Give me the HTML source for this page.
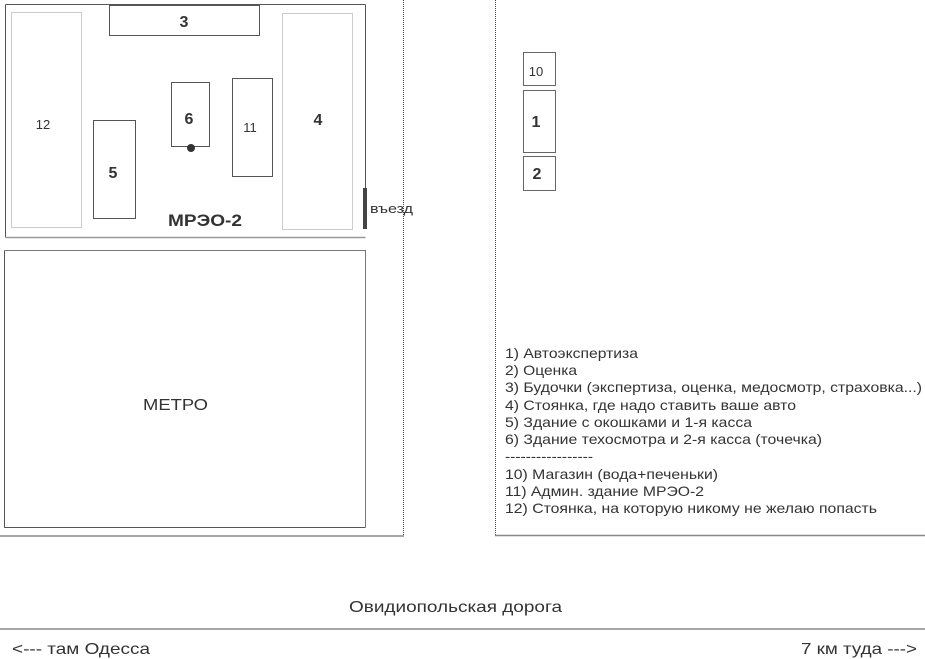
<!DOCTYPE html>
<html><head><meta charset="utf-8"><style>
html,body{margin:0;padding:0;background:#fff;}
svg{display:block;}
text{font-family:"Liberation Sans",sans-serif;fill:#333;}
</style></head><body>
<svg width="925" height="659" viewBox="0 0 925 659" xmlns="http://www.w3.org/2000/svg">
<g fill="none" stroke-width="1">
<path d="M5.5 4.5H365.5" stroke="#555"/>
<path d="M5.5 4.5V237.5" stroke="#555"/>
<path d="M5.5 237.5H365.5" stroke="#999" stroke-width="1.5"/>
<path d="M365.5 4.5V188" stroke="#555"/>
<rect x="109.5" y="5.5" width="150" height="30" stroke="#555"/>
<rect x="11.5" y="12.5" width="70" height="215" stroke="#999" stroke-dasharray="1,1"/>
<rect x="282.5" y="13.5" width="70" height="216" stroke="#999" stroke-dasharray="1,1"/>
<rect x="93.5" y="120.5" width="42" height="98" stroke="#555"/>
<rect x="171.5" y="82.5" width="38" height="64" stroke="#555"/>
<rect x="232.5" y="78.5" width="40" height="98" stroke="#555"/>
<path d="M4.5 250.5H365.5V527.5" stroke="#777"/>
<path d="M4.5 250.5V527.5H365.5" stroke="#555"/>
<path d="M403.5 0V535.5" stroke="#444" stroke-dasharray="1,1"/>
<path d="M0 536H404" stroke="#888" stroke-width="1.5"/>
<path d="M495.5 0V535.5" stroke="#444" stroke-dasharray="1,1"/>
<path d="M495 535.5H925" stroke="#888" stroke-width="1.5"/>
<rect x="523.5" y="52.5" width="32" height="33" stroke="#666"/>
<rect x="523.5" y="90.5" width="32" height="62" stroke="#666"/>
<rect x="523.5" y="156.5" width="32" height="34" stroke="#666"/>
<path d="M0 629H925" stroke="#888" stroke-width="1.5"/>
</g>
<rect x="363" y="188" width="4" height="41" fill="#444"/>
<circle cx="191" cy="148" r="4" fill="#333"/>

<g font-weight="bold" font-size="16" text-anchor="middle">
<text x="184" y="27">3</text>
<text x="189" y="124">6</text>
<text x="113" y="178">5</text>
<text x="318" y="125">4</text>
<text x="536" y="127">1</text>
<text x="537" y="179">2</text>
</g>
<text x="168" y="226" font-weight="bold" font-size="17" textLength="74" lengthAdjust="spacingAndGlyphs">МРЭО-2</text>
<g font-size="13" text-anchor="middle">
<text x="43" y="129">12</text>
<text x="250" y="132">11</text>
<text x="536" y="76">10</text>
</g>
<text x="370" y="213" font-size="13" textLength="43" lengthAdjust="spacingAndGlyphs">въезд</text>
<text x="143" y="410" font-size="16" textLength="65" lengthAdjust="spacingAndGlyphs">МЕТРО</text>

<g font-size="14" lengthAdjust="spacingAndGlyphs">
<text x="505" y="358" textLength="133" lengthAdjust="spacingAndGlyphs">1) Автоэкспертиза</text>
<text x="505" y="375" textLength="72" lengthAdjust="spacingAndGlyphs">2) Оценка</text>
<text x="505" y="392" textLength="417" lengthAdjust="spacingAndGlyphs">3) Будочки (экспертиза, оценка, медосмотр, страховка...)</text>
<text x="505" y="410" textLength="291" lengthAdjust="spacingAndGlyphs">4) Стоянка, где надо ставить ваше авто</text>
<text x="505" y="427" textLength="247" lengthAdjust="spacingAndGlyphs">5) Здание с окошками и 1-я касса</text>
<text x="505" y="444" textLength="317" lengthAdjust="spacingAndGlyphs">6) Здание техосмотра и 2-я касса (точечка)</text>
<text x="505" y="461" textLength="88" lengthAdjust="spacingAndGlyphs">-----------------</text>
<text x="505" y="479" textLength="213" lengthAdjust="spacingAndGlyphs">10) Магазин (вода+печеньки)</text>
<text x="505" y="496" textLength="199" lengthAdjust="spacingAndGlyphs">11) Админ. здание МРЭО-2</text>
<text x="505" y="513" textLength="372" lengthAdjust="spacingAndGlyphs">12) Стоянка, на которую никому не желаю попасть</text>
</g>
<text x="349" y="612" font-size="16" textLength="213" lengthAdjust="spacingAndGlyphs">Овидиопольская дорога</text>
<text x="12" y="654" font-size="16" textLength="138" lengthAdjust="spacingAndGlyphs">&lt;--- там Одесса</text>
<text x="801" y="654" font-size="16" textLength="116" lengthAdjust="spacingAndGlyphs">7 км туда ---&gt;</text>
</svg>
</body></html>
